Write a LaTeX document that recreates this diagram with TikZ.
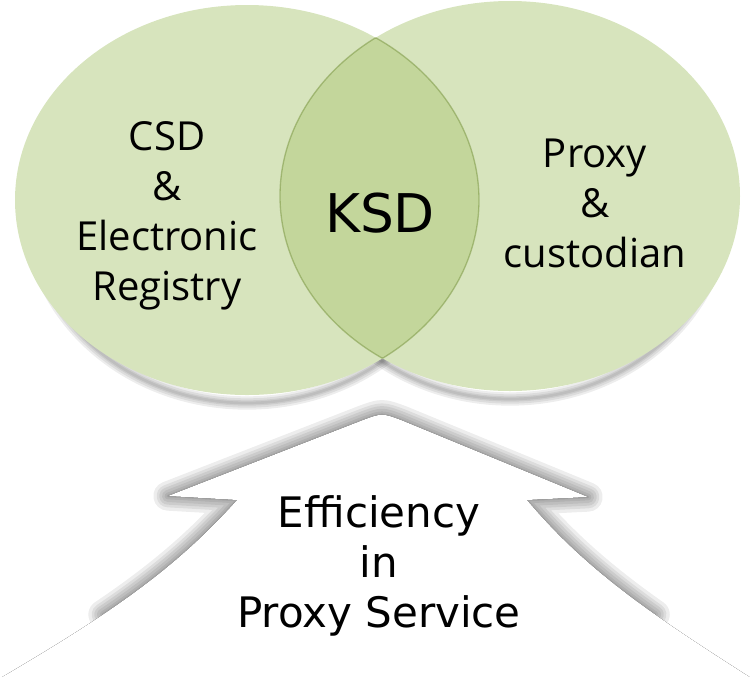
\documentclass[tikz,border=0pt]{standalone}
\usepackage{fontspec}
\newfontfamily\vennfont{Open Sans}
\newfontfamily\goalfont{DejaVu Sans}
\usetikzlibrary{backgrounds}
\pgfdeclarelayer{edgelayer}
\pgfdeclarelayer{nodelayer}
\pgfsetlayers{edgelayer,nodelayer,main}
\definecolor{venngreen}{HTML}{D7E4BD}
\definecolor{ksdgreen}{HTML}{C3D69B}
\definecolor{ksdedge}{HTML}{76923C}
\tikzstyle{none}=[inner sep=0pt]
\tikzstyle{side}=[inner sep=0pt,align=center,font=\vennfont\fontsize{30}{37.5}\selectfont]
\tikzstyle{core}=[inner sep=0pt,font=\goalfont\fontsize{40}{48}\selectfont]
\tikzstyle{goal}=[inner sep=0pt,align=center,font=\goalfont\fontsize{31.5}{37.5}\selectfont]
\tikzstyle{glow}=[draw=black,line join=round,line cap=round,opacity=0.07]
\def\leftset{(247,200) ellipse [x radius=232, y radius=195]}
\def\rightset{(510,196) ellipse [x radius=230, y radius=195]}
\def\leftshade{(247,208) ellipse [x radius=218, y radius=195]}
\def\rightshade{(510,204) ellipse [x radius=216, y radius=195]}
\def\arrowpath{(168,496) -- (363,420) .. controls (382,413) .. (401,420) -- (588,497) -- (527,500) .. controls (590,575) and (660,620) .. (770,690) -- (770,720) -- (-20,720) -- (-20,690) .. controls (100,620) and (170,575) .. (237,500) -- cycle}
\def\arrowedge{(103,614.5) .. controls (155.5,579.2) and (196.8,545) .. (237,500) -- (168,496) -- (363,420) .. controls (382,413) .. (401,420) -- (588,497) -- (527,500) .. controls (564.8,545) and (605.1,579.2) .. (655.1,614.5)}

\begin{document}
\begin{tikzpicture}[x=0.75pt,y=-0.75pt]
	\useasboundingbox (0,0) rectangle (750,676);
	\begin{pgfonlayer}{nodelayer}
		\node [style=side] (0) at (167, 216) {CSD\\\&\\Electronic\\Registry};
		\node [style=core] (1) at (380, 213) {KSD};
		\node [style=side] (2) at (595, 203) {Proxy\\\&\\custodian};
		\node [style=goal] (3) at (379, 566) {Efficiency\\in\\Proxy Service};
	\end{pgfonlayer}
	\begin{pgfonlayer}{edgelayer}
		% soft shadows
		\foreach \w in {10,7,4,2} {
			\draw[style=glow, line width=\w pt] \leftshade;
			\draw[style=glow, line width=\w pt] \rightshade;
		}
		\foreach \w in {22,17,13,9,5,2} {
			\draw[style=glow, line width=\w pt] \arrowedge;
		}
		% arrow and sets
		\fill[top color=white, middle color=black!4, bottom color=white] \arrowpath;
		\fill[venngreen] \leftset;
		\fill[venngreen] \rightset;
		\begin{scope}
			\clip \leftset;
			\fill[ksdgreen] \rightset;
			\draw[ksdedge, opacity=0.5, line width=1pt] \rightset;
		\end{scope}
		\begin{scope}
			\clip \rightset;
			\draw[ksdedge, opacity=0.5, line width=1pt] \leftset;
		\end{scope}
	\end{pgfonlayer}
\end{tikzpicture}
\end{document}
